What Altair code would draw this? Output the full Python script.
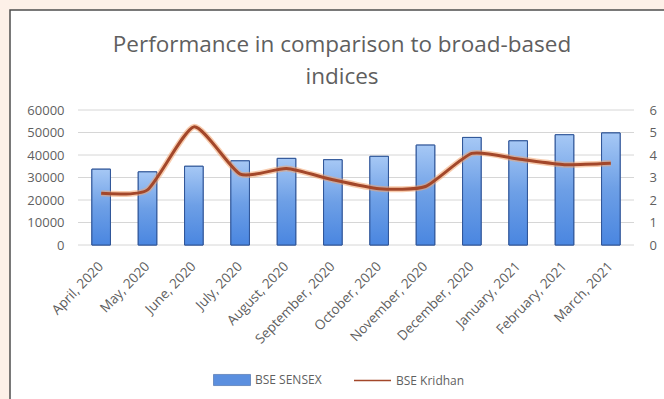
import altair as alt
import pandas as pd

months = ["April, 2020", "May, 2020", "June, 2020", "July, 2020", "August, 2020",
          "September, 2020", "October, 2020", "November, 2020", "December, 2020",
          "January, 2021", "February, 2021", "March, 2021"]
sensex = [33700, 32500, 35000, 37400, 38500, 37900, 39400, 44400, 47800, 46300, 49000, 49800]
kridhan = [2.3, 2.45, 5.25, 3.15, 3.4, 2.9, 2.5, 2.6, 4.07, 3.82, 3.57, 3.63]
left_ticks = [0, 10000, 20000, 30000, 40000, 50000, 60000]
right_ticks = [0, 1, 2, 3, 4, 5, 6]

df = pd.DataFrame({"month": months, "sensex": sensex, "kridhan": kridhan,
                   "s1": "BSE SENSEX", "s2": "BSE Kridhan"})

FONT = "Open Sans"
GRAY = "#5f5f5f"

xenc = alt.X("month:N", sort=months, title=None,
             scale=alt.Scale(paddingInner=0.6, paddingOuter=0.3),
             axis=alt.Axis(labelAngle=-46, labelFontSize=13.5, labelColor=GRAY, ticks=False,
                           domain=False, labelPadding=19, labelFont=FONT, zindex=1))

left_axis = alt.Axis(values=left_ticks, format="d", grid=False,
                     ticks=False, domain=False, labelFontSize=13, labelColor=GRAY,
                     labelPadding=14, labelFont=FONT, zindex=1)
left_scale = alt.Scale(domain=[0, 60000])

ybar = alt.Y("sensex:Q", title=None, scale=left_scale, axis=left_axis)

yline = alt.Y("kridhan:Q", title=None, scale=alt.Scale(domain=[0, 6]),
              axis=alt.Axis(orient="right", values=right_ticks, ticks=False,
                            domain=False, grid=False, labelFontSize=13, labelColor=GRAY,
                            labelPadding=15, labelFont=FONT, zindex=1))

base = alt.Chart(df)

frame = alt.Chart(pd.DataFrame({"f": [0]})).mark_rect(
    fill="white", stroke="#4d4d4d", strokeWidth=1.5
).encode(x=alt.value(-68), x2=alt.value(620), y=alt.value(-100), y2=alt.value(320))

grid = alt.Chart(pd.DataFrame({"g": left_ticks})).mark_rule(
    color="#d6d6d6", strokeWidth=1
).encode(y=alt.Y("g:Q", title=None, scale=left_scale, axis=left_axis))

bars_legend = base.mark_bar(stroke="#2f5597", strokeWidth=1).encode(
    x=xenc, y=ybar,
    fill=alt.Fill("s1:N", title=None,
                  scale=alt.Scale(domain=["BSE SENSEX"], range=["#5b8fdf"]),
                  legend=alt.Legend(orient="none", legendX=135, legendY=251, padding=0,
                                    symbolType="M-1,-0.3H1V0.3H-1Z", symbolSize=1369,
                                    symbolStrokeColor="#2f5597", symbolStrokeWidth=0.5,
                                    labelFontSize=12, labelColor=GRAY, labelFont=FONT)),
)

bars_grad = base.mark_bar(
    stroke="#2f5597", strokeWidth=1,
    fill=alt.Gradient(gradient="linear", x1=0, x2=0, y1=0, y2=1,
                      stops=[alt.GradientStop(color="#a6c8f5", offset=0),
                             alt.GradientStop(color="#6d9fe6", offset=0.5),
                             alt.GradientStop(color="#4a86e0", offset=1)])
).encode(x=xenc, y=ybar)

glow = base.mark_line(interpolate="cardinal", tension=0.4, strokeWidth=6,
                      color="#f2a36b", opacity=0.55).encode(x=xenc, y=yline)

line = base.mark_line(interpolate="cardinal", tension=0.4, strokeWidth=3).encode(
    x=xenc, y=yline,
    stroke=alt.Stroke("s2:N", title=None,
                      scale=alt.Scale(domain=["BSE Kridhan"], range=["#a3472a"]),
                      legend=alt.Legend(orient="none", legendX=275, legendY=251, padding=0,
                                        symbolType="stroke", symbolSize=1369,
                                        symbolStrokeWidth=1.5,
                                        labelFontSize=12, labelColor=GRAY, labelFont=FONT)),
)

left = alt.layer(frame, grid, bars_legend, bars_grad)
right = alt.layer(glow, line)

chart = alt.layer(left, right).resolve_scale(y="independent").resolve_legend(
    fill="independent", stroke="independent"
).properties(
    width=556, height=135,
    autosize=alt.AutoSizeParams(type="none"),
    padding={"left": 78, "top": 110, "right": 30, "bottom": 154},
    background="#fdf0e8",
    title=alt.TitleParams(
        text=["Performance in comparison to broad-based", "indices"],
        fontSize=22.5, font=FONT, fontWeight="normal", color=GRAY,
        anchor="middle", dx=-14, dy=99, offset=20, lineHeight=32),
).configure_view(stroke=None)

chart.save("out.html", embed_options={"renderer": "svg", "actions": False})
